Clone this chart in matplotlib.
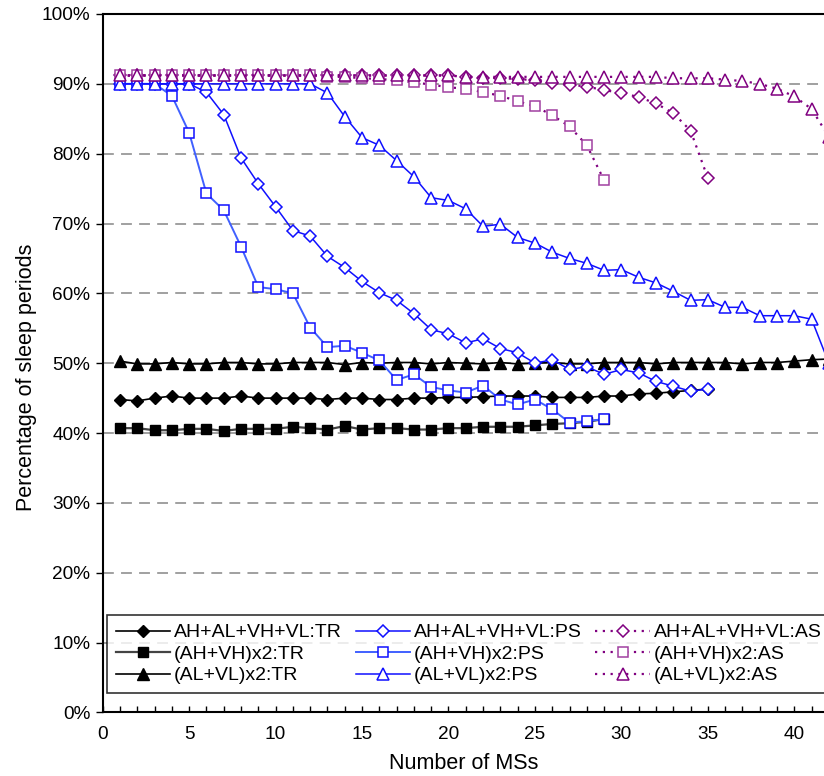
import matplotlib
matplotlib.use('Agg')
import matplotlib.pyplot as plt
from matplotlib.ticker import MultipleLocator, PercentFormatter

plt.rcParams['font.family'] = ['Liberation Sans', 'DejaVu Sans']

# number of MSs
ms_35 = list(range(1, 36))
ms_29 = list(range(1, 30))
ms_42 = list(range(1, 43))

# TR series
tr_all = [44.8, 44.6, 45.0, 45.3, 45.0, 45.0, 45.0, 45.3, 45.0, 45.0,
          45.0, 45.0, 44.8, 45.0, 45.0, 44.8, 44.8, 45.0, 45.0, 45.1,
          45.1, 45.2, 45.3, 45.3, 45.3, 45.1, 45.1, 45.1, 45.3, 45.3,
          45.6, 45.7, 45.9, 46.1, 46.3]
tr_ahvh = [40.7, 40.7, 40.4, 40.4, 40.6, 40.6, 40.3, 40.6, 40.6, 40.6,
           40.9, 40.7, 40.5, 41.0, 40.5, 40.7, 40.7, 40.5, 40.5, 40.7,
           40.7, 40.9, 40.9, 40.9, 41.1, 41.3, 41.4, 41.6, 42.0]
tr_alvl = [50.3, 49.9, 49.9, 50.1, 49.9, 49.9, 50.1, 50.1, 49.9, 49.9,
           50.1, 50.1, 50.1, 49.8, 50.1, 50.0, 50.1, 50.1, 49.9, 50.1,
           50.0, 49.9, 50.1, 49.9, 50.0, 50.1, 49.9, 49.9, 50.1, 50.1,
           50.1, 49.9, 50.1, 50.1, 50.1, 50.1, 49.9, 50.1, 50.1, 50.3,
           50.5, 50.6]

# PS series
ps_all = [90.0, 90.0, 90.0, 90.0, 90.0, 88.8, 85.6, 79.4, 75.7, 72.4,
          69.0, 68.2, 65.3, 63.7, 61.7, 60.1, 59.0, 57.1, 54.8, 54.2,
          52.9, 53.5, 52.1, 51.5, 50.0, 50.5, 49.1, 49.5, 48.4, 49.1,
          48.6, 47.4, 46.7, 46.0, 46.3]
ps_ahvh = [90.0, 90.0, 90.0, 88.3, 83.0, 74.3, 71.9, 66.7, 60.9, 60.6,
           60.0, 55.1, 52.3, 52.5, 51.5, 50.4, 47.6, 48.4, 46.6, 46.1,
           45.8, 46.8, 44.8, 44.1, 44.8, 43.4, 41.5, 41.7, 42.0]
ps_alvl = [90.0, 90.0, 90.0, 90.0, 90.0, 90.0, 90.0, 90.0, 90.0, 90.0,
           90.0, 90.0, 88.7, 85.3, 82.3, 81.2, 79.0, 76.7, 73.7, 73.3,
           72.1, 69.6, 69.9, 68.0, 67.2, 65.9, 65.0, 64.3, 63.3, 63.4,
           62.3, 61.5, 60.3, 59.0, 59.1, 58.0, 58.0, 56.8, 56.8, 56.8,
           56.3, 50.0]

# AS series
as_all = [91.2, 91.2, 91.2, 91.2, 91.2, 91.2, 91.2, 91.2, 91.2, 91.2,
          91.2, 91.2, 91.2, 91.2, 91.2, 91.2, 91.2, 91.2, 91.2, 91.2,
          91.0, 90.9, 90.8, 90.7, 90.5, 90.1, 89.9, 89.6, 89.1, 88.7,
          88.1, 87.2, 85.8, 83.3, 76.5]
as_ahvh = [91.2, 91.2, 91.2, 91.2, 91.2, 91.2, 91.2, 91.2, 91.2, 91.2,
           91.2, 91.2, 91.0, 91.0, 90.8, 90.7, 90.5, 90.2, 89.9, 89.5,
           89.3, 88.8, 88.3, 87.5, 86.8, 85.5, 83.9, 81.2, 76.2]
as_alvl = [91.2, 91.2, 91.2, 91.2, 91.2, 91.2, 91.2, 91.2, 91.2, 91.2,
           91.2, 91.2, 91.2, 91.2, 91.2, 91.2, 91.2, 91.2, 91.2, 91.2,
           91.0, 91.0, 91.0, 91.0, 91.0, 91.0, 91.0, 91.0, 91.0, 91.0,
           91.0, 91.0, 90.8, 90.8, 90.8, 90.6, 90.4, 90.0, 89.3, 88.2,
           86.4, 82.4]

labels = ['AH+AL+VH+VL:TR', '(AH+VH)x2:TR', '(AL+VL)x2:TR',
          'AH+AL+VH+VL:PS', '(AH+VH)x2:PS', '(AL+VL)x2:PS',
          'AH+AL+VH+VL:AS', '(AH+VH)x2:AS', '(AL+VL)x2:AS']

W, H = 824, 776
fig = plt.figure(figsize=(W / 100, H / 100), dpi=100)
left, right, top, bottom = 102.7, 824, 14.0, 712.4
ax = fig.add_axes([left / W, 1 - bottom / H, (right - left) / W, (bottom - top) / H])

# gridlines
for g in range(10, 100, 10):
    ax.axhline(g, color='#999999', lw=1.3, ls=(0, (6, 4)), zorder=0)

blue = '#1010ff'
lblue = '#4060ff'
purple = '#800080'
lpurple = '#a040a0'

# TR (black, filled)
ax.plot(ms_35, tr_all, color='black', lw=1.2, marker='D', ms=6, mfc='black', mec='black', label=labels[0], zorder=3)
ax.plot(ms_29, tr_ahvh, color='#444444', lw=1.6, marker='s', ms=7, mfc='black', mec='black', label=labels[1], zorder=3)
ax.plot(ms_42, tr_alvl, color='black', lw=1.2, marker='^', ms=8, mfc='black', mec='black', label=labels[2], zorder=3)

# PS (blue, open)
ax.plot(ms_35, ps_all, color=blue, lw=1.1, marker='D', ms=6, mfc='white', mec=blue, mew=1.1, label=labels[3], zorder=4)
ax.plot(ms_29, ps_ahvh, color=lblue, lw=1.4, marker='s', ms=7.5, mfc='white', mec=blue, mew=1.1, label=labels[4], zorder=4)
ax.plot(ms_42, ps_alvl, color=blue, lw=1.1, marker='^', ms=8.5, mfc='white', mec=blue, mew=1.1, label=labels[5], zorder=4)

# AS (purple, dotted)
ax.plot(ms_35, as_all, color=purple, lw=1.6, ls=(0, (1, 2.5)), marker='D', ms=6, mfc='white', mec=purple, mew=1.1, label=labels[6], zorder=5)
ax.plot(ms_29, as_ahvh, color=purple, lw=1.6, ls=(0, (1, 2.5)), marker='s', ms=7.5, mfc='white', mec=lpurple, mew=1.1, label=labels[7], zorder=5)
ax.plot(ms_42, as_alvl, color=purple, lw=1.6, ls=(0, (1, 2.5)), marker='^', ms=8.5, mfc='white', mec=purple, mew=1.1, label=labels[8], zorder=5)

ax.set_xlim(0, (right - left) / 17.29)
ax.set_ylim(0, 100)
ax.xaxis.set_major_locator(MultipleLocator(5))
ax.xaxis.set_minor_locator(MultipleLocator(1))
ax.yaxis.set_major_locator(MultipleLocator(10))
ax.yaxis.set_major_formatter(PercentFormatter(decimals=0))
ax.tick_params(axis='x', which='both', direction='in', length=4, width=1, labelsize=13.7, pad=10)
ax.tick_params(axis='y', direction='out', length=5, width=1, labelsize=13.7, pad=4)
for s in ['left', 'bottom', 'top']:
    ax.spines[s].set_linewidth(1.5)
ax.spines['right'].set_visible(False)

ax.set_xlabel('Number of MSs', fontsize=15.5)
ax.xaxis.set_label_coords(0.5, (bottom - 753) / (bottom - top))
ax.set_ylabel('Percentage of sleep periods', fontsize=15.5)
ax.yaxis.set_label_coords((37 - left) / (right - left), (bottom - 377) / (bottom - top))

leg = ax.legend(loc='upper left', bbox_to_anchor=(107 / W, 1 - 615 / H), bbox_transform=fig.transFigure,
                ncol=3, fontsize=14, frameon=True, fancybox=False, edgecolor='black', borderaxespad=0,
                handlelength=2.8, columnspacing=0.7, labelspacing=0.2, handletextpad=0.2, borderpad=0.45)
leg.get_frame().set_linewidth(1.2)

fig.savefig('out.png', dpi=100)
